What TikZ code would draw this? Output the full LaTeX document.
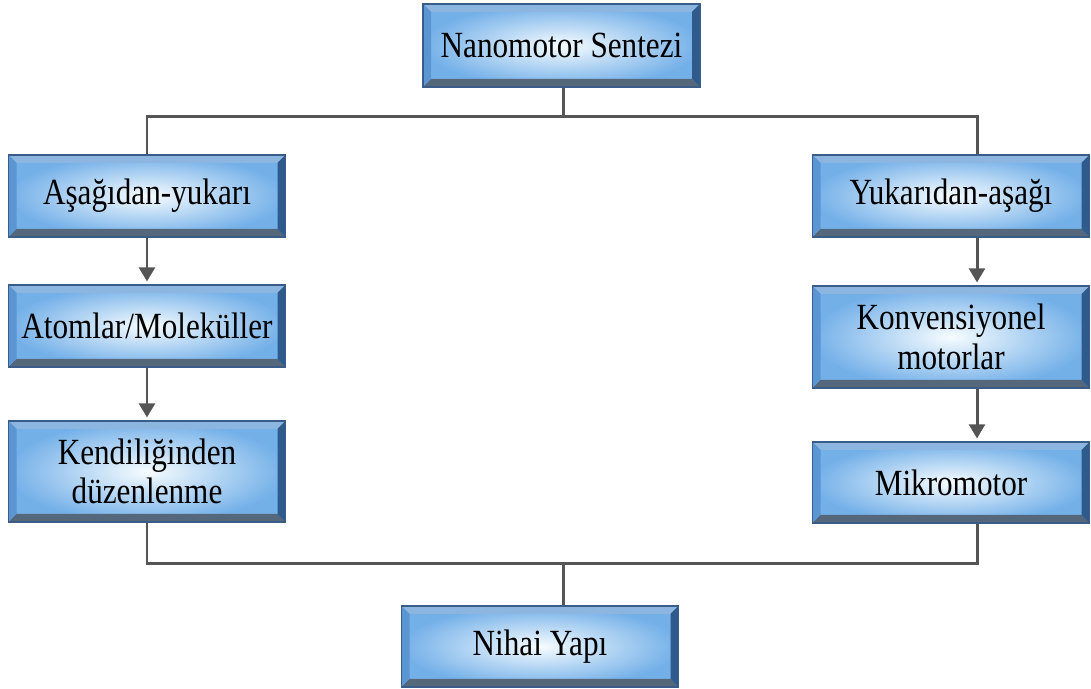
\documentclass[tikz,border=0pt]{standalone}
\usepackage{fontspec}
\setmainfont[FakeStretch=0.845]{Liberation Serif}
\usetikzlibrary{calc,arrows.meta}
\definecolor{cuerpo}{HTML}{74B0E8}
\definecolor{centro}{HTML}{F6FCFF}
\definecolor{borde}{HTML}{3A5C88}
\definecolor{bizqder}{HTML}{2F5A8C}
\definecolor{bizqizq}{HTML}{5B95D2}
\definecolor{binf}{HTML}{55677A}
\definecolor{linea}{HTML}{555555}
\tikzset{
  bevelbox/.style={draw=borde, line width=0.6pt, inner color=centro, outer color=cuerpo,
    minimum width=5.54cm, align=center, font=\fontsize{21}{22.5}\selectfont,
    path picture={
      \def\bv{0.16}
      % bisel superior
      \shade[left color=bizqizq!70, middle color=white, right color=bizqizq!70]
        (path picture bounding box.north west) -- (path picture bounding box.north east)
        -- ++(-\bv,-\bv) -- ($(path picture bounding box.north west)+(\bv,-\bv)$) -- cycle;
      % bisel inferior
      \shade[left color=binf, middle color=binf!60, right color=binf]
        (path picture bounding box.south west) -- (path picture bounding box.south east)
        -- ++(-\bv,\bv) -- ($(path picture bounding box.south west)+(\bv,\bv)$) -- cycle;
      % bisel izquierdo
      \fill[bizqizq]
        (path picture bounding box.north west) -- ++(\bv,-\bv)
        -- ($(path picture bounding box.south west)+(\bv,\bv)$) -- (path picture bounding box.south west) -- cycle;
      % bisel derecho
      \fill[bizqder]
        (path picture bounding box.north east) -- ++(-\bv,-\bv)
        -- ($(path picture bounding box.south east)+(-\bv,\bv)$) -- (path picture bounding box.south east) -- cycle;
    }},
  flecha/.style={draw=linea, line width=1.7pt, -{Triangle[length=8pt,width=9pt]}, shorten >=0.06cm},
  rama/.style={draw=linea, line width=1.7pt}
}
\begin{document}
\begin{tikzpicture}
    \useasboundingbox (0,0) rectangle (21.82,13.78);

    % Cajas
    \node[bevelbox, minimum height=1.66cm] (top) at (11.23,12.87) {Nanomotor Sentezi};
    \node[bevelbox, minimum height=1.64cm] (l1) at (2.94,9.86) {Aşağıdan-yukarı};
    \node[bevelbox, minimum height=1.64cm] (l2) at (2.94,7.26) {Atomlar/Moleküller};
    \node[bevelbox, minimum height=2.02cm] (l3) at (2.94,4.35) {Kendiliğinden\\düzenlenme};
    \node[bevelbox, minimum height=1.64cm] (r1) at (19.02,9.86) {Yukarıdan-aşağı};
    \node[bevelbox, minimum height=2.04cm] (r2) at (19.02,7.04) {Konvensiyonel\\motorlar};
    \node[bevelbox, minimum height=1.62cm] (r3) at (19.02,4.13) {Mikromotor};
    \node[bevelbox, minimum height=1.62cm] (fin) at (10.80,0.85) {Nihai Yapı};

    % Ejes de las ramas
    \coordinate (rx) at (19.54,0);
    \coordinate (cx) at (11.26,0);
    \coordinate (arriba) at (0,11.44);
    \coordinate (abajo) at (0,2.50);

    % Division superior
    \draw[rama] (top.south -| cx) -- (arriba -| cx);
    \draw[rama] (l1.north) |- (arriba -| cx) -| (r1.north -| rx);

    % Flechas de cada rama
    \draw[flecha] (l1) -- (l2);
    \draw[flecha] (l2) -- (l3);
    \draw[flecha] (r1.south -| rx) -- (r2.north -| rx);
    \draw[flecha] (r2.south -| rx) -- (r3.north -| rx);

    % Union inferior
    \draw[rama] (l3.south) |- (abajo -| cx) -| (r3.south -| rx);
    \draw[rama] (abajo -| cx) -- (fin.north -| cx);
\end{tikzpicture}
\end{document}
